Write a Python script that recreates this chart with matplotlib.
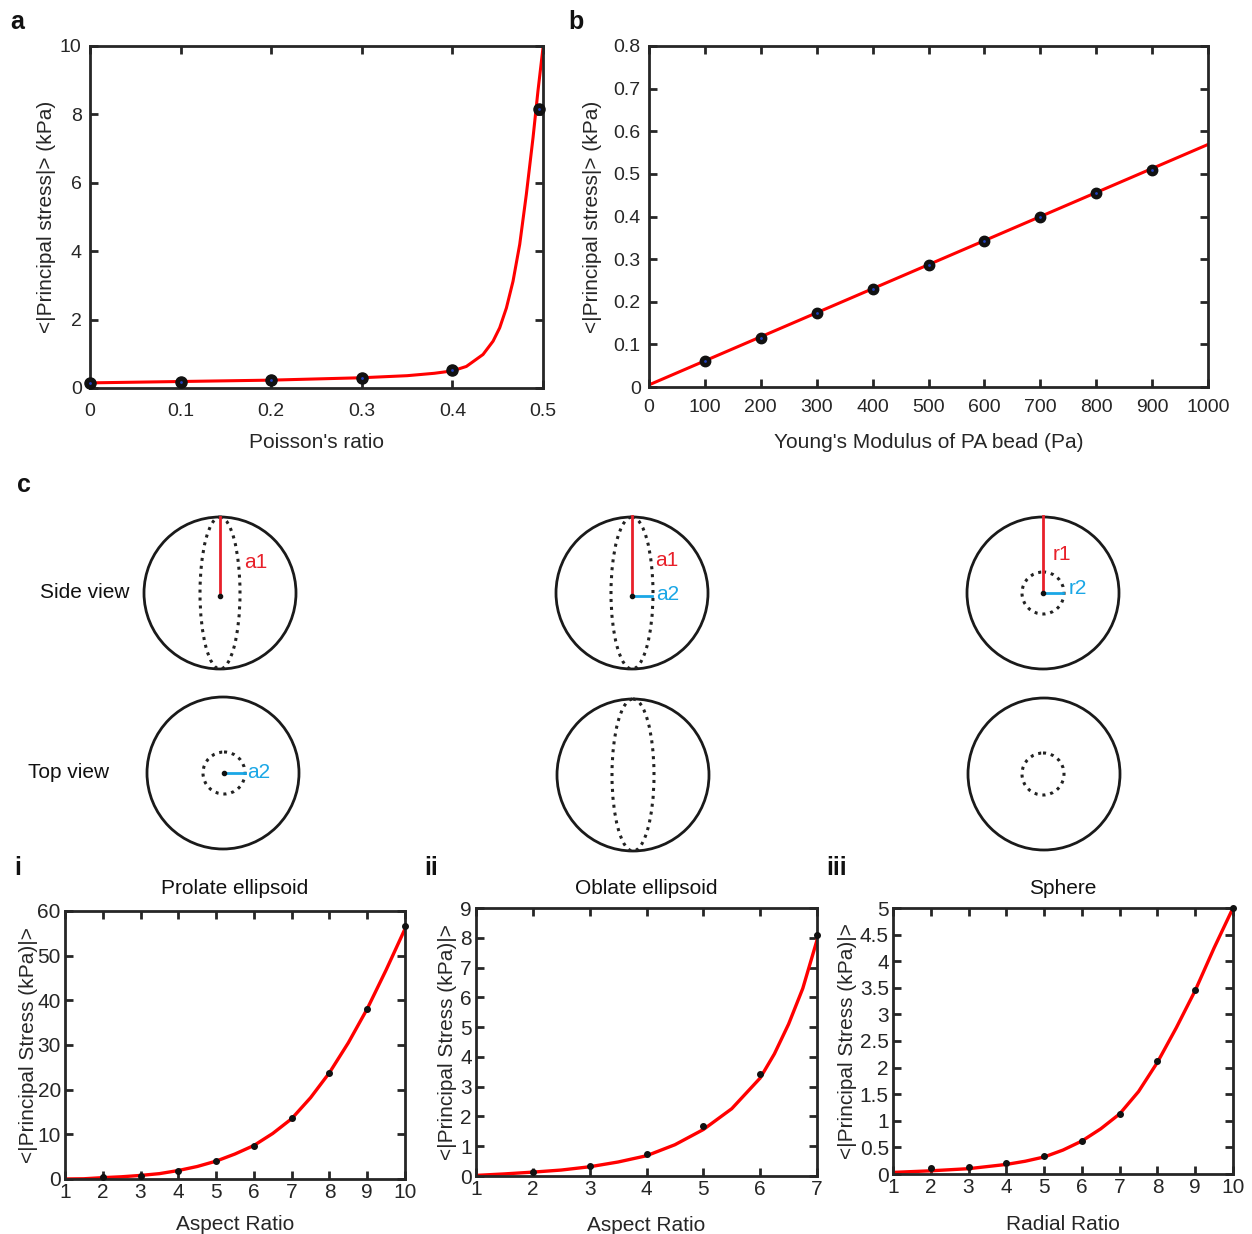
import matplotlib
matplotlib.use("Agg")
import matplotlib.pyplot as plt
from matplotlib.patches import Circle, Ellipse

plt.rcParams['font.family'] = ['Liberation Sans', 'DejaVu Sans']

# ---------------- data ----------------
# panel a
pois_x = [0.0, 0.1, 0.2, 0.3, 0.4, 0.496]
pois_y = [0.15, 0.18, 0.23, 0.30, 0.52, 8.15]
pois_fit_x = [0.0, 0.1, 0.2, 0.3, 0.35, 0.38, 0.4, 0.4154, 0.4338, 0.4449, 0.4522,
              0.4596, 0.4669, 0.4743, 0.4816, 0.489, 0.4945, 0.5]
pois_fit_y = [0.15, 0.19, 0.23, 0.30, 0.36, 0.43, 0.50, 0.63, 0.98, 1.37, 1.76,
              2.34, 3.12, 4.2, 5.66, 7.32, 8.7, 9.95]
# panel b
young_x = [100, 200, 300, 400, 500, 600, 700, 800, 900]
young_y = [0.062, 0.114, 0.174, 0.230, 0.286, 0.343, 0.398, 0.456, 0.510]
young_fit_x = [0, 1000]
young_fit_y = [0.005, 0.569]
# panel i
pro_x = [2, 3, 4, 5, 6, 7, 8, 9, 10]
pro_y = [0.5, 0.75, 1.9, 4.0, 7.5, 13.6, 23.8, 38.1, 56.6]
pro_fit_x = [1, 1.5, 2, 2.5, 3, 3.5, 4, 4.5, 5, 5.5, 6, 6.5, 7, 7.5, 8, 8.5, 9, 9.5, 10]
pro_fit_y = [0.0, 0.05, 0.3, 0.5, 0.8, 1.2, 1.9, 2.8, 4.0, 5.6, 7.5, 10.2, 13.5,
             18.2, 23.8, 30.5, 38.1, 46.8, 56.0]
# panel ii
obl_x = [2, 3, 4, 5, 6, 7]
obl_y = [0.12, 0.34, 0.73, 1.67, 3.44, 8.08]
obl_fit_x = [1, 1.5, 2, 2.5, 3, 3.5, 4, 4.5, 5, 5.5, 6, 6.25, 6.5, 6.75, 7]
obl_fit_y = [0.02, 0.07, 0.13, 0.20, 0.31, 0.47, 0.68, 1.05, 1.56, 2.26, 3.29, 4.1,
             5.1, 6.3, 7.92]
# panel iii
sph_x = [2, 3, 4, 5, 6, 7, 8, 9, 10]
sph_y = [0.11, 0.13, 0.20, 0.34, 0.62, 1.13, 2.13, 3.46, 5.0]
sph_fit_x = [1, 1.5, 2, 2.5, 3, 3.5, 4, 4.5, 5, 5.5, 6, 6.5, 7, 7.5, 8, 8.5, 9, 9.5, 10]
sph_fit_y = [0.03, 0.045, 0.06, 0.08, 0.10, 0.14, 0.18, 0.24, 0.32, 0.45, 0.62, 0.85,
             1.13, 1.55, 2.10, 2.75, 3.45, 4.25, 5.0]

DARK = '#262626'
RED = '#ff0000'
BLUE = '#1aa7e6'

W, H = 1252, 1234
fig = plt.figure(figsize=(W / 100, H / 100), dpi=100)

def px_axes(l, t, r, b):
    return fig.add_axes([l / W, 1 - b / H, (r - l) / W, (b - t) / H])

def style(ax, fs, xpad=6, ypad=6):
    for s in ax.spines.values():
        s.set_linewidth(2.0)
        s.set_color(DARK)
    ax.tick_params(which='both', direction='in', top=True, right=True, length=6,
                   width=2, color=DARK, labelcolor=DARK, labelsize=fs)
    ax.tick_params(axis='x', pad=xpad)
    ax.tick_params(axis='y', pad=ypad)

# ---------- panel a ----------
axa = px_axes(90, 46, 543, 388)
axa.plot(pois_fit_x, pois_fit_y, color=RED, lw=2.2, zorder=2)
axa.plot(pois_x, pois_y, 'o', ms=8, mfc='#111111', mec='#111111', clip_on=False, zorder=3)
axa.plot(pois_x, pois_y, '.', ms=2, color='#2040c0', clip_on=False, zorder=4)
axa.set_xlim(0, 0.5)
axa.set_ylim(0, 10)
axa.set_xticks([0, 0.1, 0.2, 0.3, 0.4, 0.5])
axa.set_xticklabels(['0', '0.1', '0.2', '0.3', '0.4', '0.5'])
axa.set_yticks([0, 2, 4, 6, 8, 10])
style(axa, 14, xpad=11, ypad=6)
axa.set_xlabel("Poisson's ratio", fontsize=15, color=DARK, labelpad=9)
axa.set_ylabel("<|Principal stress|> (kPa)", fontsize=15, color=DARK, labelpad=3)

# ---------- panel b ----------
axb = px_axes(649, 46, 1208, 387)
axb.plot(young_fit_x, young_fit_y, color=RED, lw=2.2, zorder=2)
axb.plot(young_x, young_y, 'o', ms=7.5, mfc='#111111', mec='#111111', zorder=3)
axb.plot(young_x, young_y, '.', ms=2, color='#2040c0', zorder=4)
axb.set_xlim(0, 1000)
axb.set_ylim(0, 0.8)
axb.set_xticks(range(0, 1001, 100))
axb.set_yticks([0, 0.1, 0.2, 0.3, 0.4, 0.5, 0.6, 0.7, 0.8])
axb.set_yticklabels(['0', '0.1', '0.2', '0.3', '0.4', '0.5', '0.6', '0.7', '0.8'])
style(axb, 14, xpad=9, ypad=6)
axb.set_xlabel("Young's Modulus of PA bead (Pa)", fontsize=15, color=DARK, labelpad=12)
axb.set_ylabel("<|Principal stress|> (kPa)", fontsize=15, color=DARK, labelpad=8)

# ---------- bottom panels ----------
def bottom(ax, fx, fy, px_, py_, xl, yl, xt, yt, ytl, title, xlab, tpad, xlpad, ylpad):
    ax.plot(fx, fy, color=RED, lw=2.4, zorder=2)
    ax.plot(px_, py_, 'o', ms=4, mfc='#111111', mec='#111111', clip_on=False, zorder=3)
    ax.set_xlim(*xl)
    ax.set_ylim(*yl)
    ax.set_xticks(xt)
    ax.set_yticks(yt)
    ax.set_yticklabels(ytl)
    style(ax, 15, xpad=3, ypad=3)
    ax.set_title(title, fontsize=15, color='#111111', pad=tpad)
    ax.set_xlabel(xlab, fontsize=15, color=DARK, labelpad=xlpad)
    ax.set_ylabel("<|Principal Stress (kPa)|>", fontsize=15, color=DARK, labelpad=ylpad)

ax1 = px_axes(65, 911, 405, 1179)
bottom(ax1, pro_fit_x, pro_fit_y, pro_x, pro_y, (1, 10), (0, 60), range(1, 11),
       range(0, 61, 10), [str(v) for v in range(0, 61, 10)], 'Prolate ellipsoid',
       'Aspect Ratio', 12, 9, -0.5)
ax2 = px_axes(476, 908, 817, 1176)
bottom(ax2, obl_fit_x, obl_fit_y, obl_x, obl_y, (1, 7), (0, 9), range(1, 8),
       range(0, 10), [str(v) for v in range(0, 10)], 'Oblate ellipsoid',
       'Aspect Ratio', 10, 12, 2)
ax3 = px_axes(893, 908, 1233, 1174)
yt3 = [0, 0.5, 1, 1.5, 2, 2.5, 3, 3.5, 4, 4.5, 5]
bottom(ax3, sph_fit_x, sph_fit_y, sph_x, sph_y, (1, 10), (0, 5), range(1, 11),
       yt3, ['0', '0.5', '1', '1.5', '2', '2.5', '3', '3.5', '4', '4.5', '5'], 'Sphere',
       'Radial Ratio', 10, 13, 2)

# ---------- schematic overlay (pixel coords) ----------
ov = fig.add_axes([0, 0, 1, 1], zorder=-1)
ov.set_xlim(0, W)
ov.set_ylim(H, 0)
ov.axis('off')

def circ(cx, cy, r, dotted=False):
    if dotted:
        ov.add_patch(Circle((cx, cy), r, fill=False, ec='#222222', lw=2.2, ls=(0, (1, 1.6))))
    else:
        ov.add_patch(Circle((cx, cy), r, fill=False, ec='#1a1a1a', lw=2.0))

def ell(cx, cy, a, b):
    ov.add_patch(Ellipse((cx, cy), 2 * a, 2 * b, fill=False, ec='#222222', lw=2.2,
                         ls=(0, (1, 1.6))))

R = 76
# prolate
circ(220, 593, R); ell(220, 593, 20, R)
ov.plot([220, 220], [517, 596], color='#e8202a', lw=2.0)
ov.plot([220], [596], 'o', ms=3, color='#111111')
ov.text(244, 562, 'a1', color='#e8202a', fontsize=15, va='center')
circ(223, 773, R); circ(224, 773, 21, dotted=True)
ov.plot([224, 245], [773, 773], color=BLUE, lw=2.0)
ov.plot([224], [773], 'o', ms=3, color='#111111')
ov.text(247, 772, 'a2', color=BLUE, fontsize=15, va='center')
ov.text(85, 592, 'Side view', fontsize=15, ha='center', va='center', color='#111111')
ov.text(69, 772, 'Top view', fontsize=15, ha='center', va='center', color='#111111')
# oblate
circ(632, 593, R); ell(632, 593, 21, R)
ov.plot([632, 632], [516, 596], color='#e8202a', lw=2.0)
ov.plot([632, 652], [596, 596], color=BLUE, lw=2.0)
ov.plot([632], [596], 'o', ms=3, color='#111111')
ov.text(655, 561, 'a1', color='#e8202a', fontsize=15, va='center')
ov.text(656, 594, 'a2', color=BLUE, fontsize=15, va='center')
circ(633, 775, R); ell(633, 775, 21, R)
# sphere
circ(1043, 593, R); circ(1043, 593, 21, dotted=True)
ov.plot([1043, 1043], [516, 593], color='#e8202a', lw=2.0)
ov.plot([1043, 1063], [593, 593], color=BLUE, lw=2.0)
ov.plot([1043], [593], 'o', ms=3, color='#111111')
ov.text(1053, 555, 'r1', color='#e8202a', fontsize=15, va='center')
ov.text(1069, 588, 'r2', color=BLUE, fontsize=15, va='center')
circ(1044, 774, R); circ(1043, 774, 21, dotted=True)

# panel letters
for txt, x, y in [('a', 10, 22), ('b', 568, 22), ('c', 17, 485),
                  ('i', 14, 868), ('ii', 424, 868), ('iii', 826, 868)]:
    ov.text(x, y, txt, fontsize=18, fontweight='bold', ha='left', va='center', color='#111111')

fig.savefig('out.png', dpi=100)
